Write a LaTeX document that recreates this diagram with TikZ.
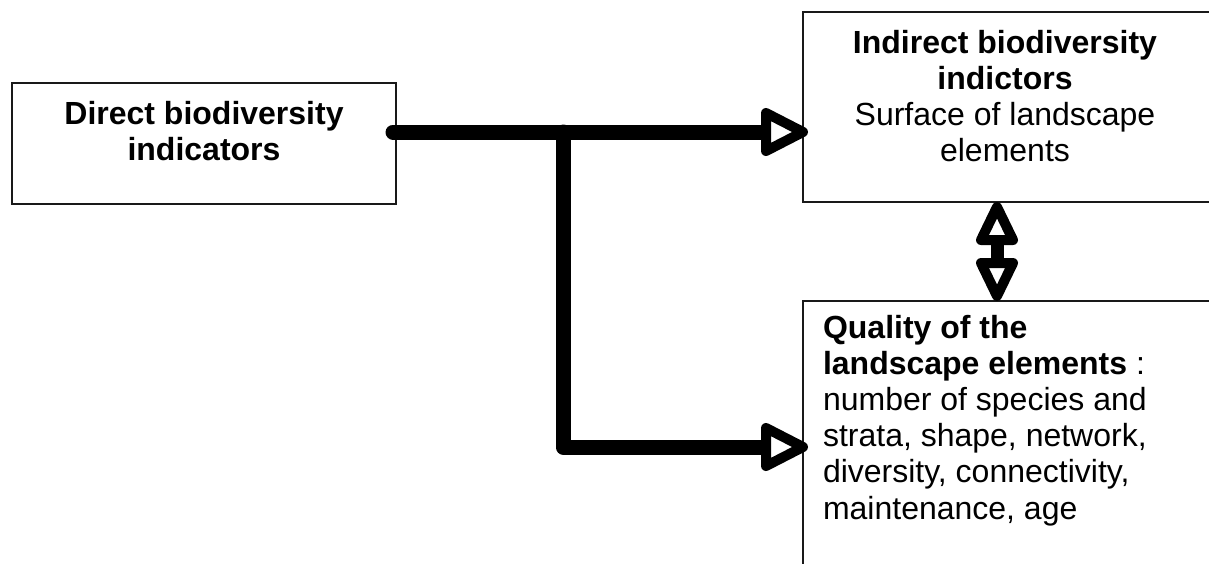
\documentclass[tikz,border=0pt]{standalone}
\usepackage{fontspec}
\setmainfont{Liberation Sans}
\usetikzlibrary{calc}
\begin{document}
\begin{tikzpicture}[x=1pt,y=-1pt,
  box/.style={draw=black!90, line width=2pt, inner sep=0pt, outer sep=0pt},
  txt/.style={inner sep=0pt, outer sep=0pt, font=\fontsize{32}{36.2}\selectfont},
  shaft/.style={draw=black, line width=15pt, line cap=round, line join=round},
  vshaft/.style={draw=black, line width=13pt},
  head/.style={draw=black, line width=10pt, line join=round, fill=white}]
\useasboundingbox (0,0) rectangle (1209,563);
\clip (0,0) rectangle (1209,563);
% boxes
\node[box, minimum width=384pt, minimum height=121pt] (direct) at (204,143.5) {};
\node[box, minimum width=408pt, minimum height=190pt] (top) at (1007,107) {};
\node[box, minimum width=408pt, minimum height=299pt] (bot) at (1007,450.5) {};
% texts
\node[txt, anchor=north, align=center, font=\fontsize{32}{36.2}\selectfont\bfseries] (dtxt) at ([yshift=-18pt]direct.north) {Direct biodiversity\\indicators};
\node[txt, anchor=north, align=center] (itxt) at ([xshift=-2pt,yshift=-18pt]top.north) {\textbf{Indirect biodiversity}\\\textbf{indictors}\\Surface of landscape\\elements};
\node[txt, anchor=north west, align=left] (qtxt) at ([xshift=20pt,yshift=-14pt]bot.north west) {\textbf{Quality of the}\\\textbf{landscape elements} :\\number of species and\\strata, shape, network,\\diversity, connectivity,\\maintenance, age};
% connector coordinates
\coordinate (s) at (393,132);
\coordinate (j) at (563,132);
\coordinate (k) at (563,447);
\coordinate (e1) at (top.west |- s);
\coordinate (e2) at (bot.west |- k);
\coordinate (dx) at (997,0);
\coordinate (u) at (top.south -| dx);
\coordinate (v) at (bot.north -| dx);
% branch to the quality box
\draw[shaft] (j) -- (k) -- ($(e2)+(-37,0)$);
% main arrow to the indirect box
\draw[shaft] (s) -- ($(e1)+(-37,0)$);
\draw[head] ($(e1)+(-37,-19)$) -- ($(e1)+(0,0)$) -- ($(e1)+(-37,19)$) -- cycle;
\draw[head] ($(e2)+(-37,-19)$) -- ($(e2)+(0,0)$) -- ($(e2)+(-37,19)$) -- cycle;
% double arrow
\draw[vshaft] ($(u)+(0,38)$) -- ($(v)+(0,-38)$);
\draw[head] ($(u)+(-16,38)$) -- ($(u)+(0,5)$) -- ($(u)+(16,38)$) -- cycle;
\draw[head] ($(v)+(-16,-38)$) -- ($(v)+(0,-5)$) -- ($(v)+(16,-38)$) -- cycle;
\end{tikzpicture}
\end{document}
